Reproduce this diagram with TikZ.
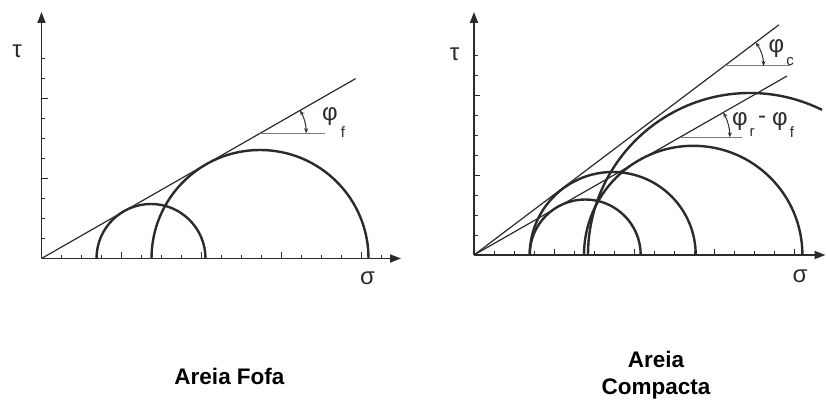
\documentclass[tikz,border=0pt]{standalone}
\usepackage{fontspec}
\setmainfont{Liberation Sans}
\usetikzlibrary{arrows.meta,calc}
\definecolor{ink}{HTML}{2B2B2B}
\definecolor{refgray}{HTML}{7A7A7A}
\tikzset{
  axis/.style={draw=ink,line width=1.8pt,-{Triangle[length=11pt,width=8pt]}},
  mohr/.style={draw=ink,line width=2.4pt},
  envelope/.style={draw=ink,line width=1.2pt},
  refline/.style={draw=refgray,line width=1pt},
  anglearrow/.style={draw=ink,line width=1pt,{Stealth[length=5pt,width=4pt]}-{Stealth[length=5pt,width=4pt]}},
  tick/.style={draw=ink,line width=0.8pt},
  greek/.style={inner sep=0pt,font=\fontsize{24}{26}\selectfont,text=ink},
  sub/.style={inner sep=0pt,font=\fontsize{15}{16}\selectfont,text=ink},
  caption/.style={inner sep=0pt,align=center,font=\fontsize{22.5}{27}\selectfont\bfseries}
}
\begin{document}
\begin{tikzpicture}[x=1pt,y=1pt]
\useasboundingbox (0,0) rectangle (826,406);
% ---------------- left panel ----------------
\coordinate (O1) at (41.5,147.5);
\coordinate (Y1) at (41.5,394);
\coordinate (X1) at (401,147.5);
\foreach \k in {1,...,10}{
  \pgfmathsetmacro{\len}{ifthenelse(mod(\k,4)==0,6,3.5)}
  \draw[tick] ($(O1)+(0,20*\k)$) -- ++(\len,0);
}
\foreach \k in {1,...,17}{
  \pgfmathsetmacro{\len}{ifthenelse(mod(\k,4)==0,6,3.5)}
  \draw[tick] ($(O1)+(20*\k,0)$) -- ++(0,\len);
}
\draw[axis] (O1) -- (Y1);
\draw[axis] (O1) -- (X1);
\coordinate (A1) at (96.5,147.5);
\coordinate (A2) at (151.5,147.5);
\draw[mohr] (A1) arc[start angle=180,end angle=0,radius=54.5];
\draw[mohr] (A2) arc[start angle=180,end angle=0,radius=108.5];
\coordinate (E1) at ($(O1)+(29.8:362)$);
\draw[envelope] (O1) -- (E1);
\coordinate (P1) at ($(O1)+(29.8:252)$);
\coordinate (H1) at ($(P1)+(65,0)$);
\draw[refline] (P1) -- (H1);
\draw[anglearrow] ($(P1)+(46,0)$) arc[start angle=0,end angle=29.8,radius=46];
\node[greek] (phif) at (330,289) {φ};
\node[sub] (phifs) at (343,274) {f};
\node[greek] (tau1) at (17,355) {τ};
\node[greek] (sig1) at (367.5,128) {σ};
% ---------------- right panel ----------------
\coordinate (O2) at (474,151);
\coordinate (Y2) at (474,394);
\coordinate (X2) at (825.5,151);
\foreach \k in {1,...,10}{
  \pgfmathsetmacro{\len}{ifthenelse(mod(\k,4)==0,6,3.5)}
  \draw[tick] ($(O2)+(0,20*\k)$) -- ++(\len,0);
}
\foreach \k in {1,...,16}{
  \pgfmathsetmacro{\len}{ifthenelse(mod(\k,4)==0,6,3.5)}
  \draw[tick] ($(O2)+(20*\k,0)$) -- ++(0,\len);
}
\draw[axis] (O2) -- (Y2);
\draw[axis] (O2) -- (X2);
\coordinate (B1) at (529.7,151);
\coordinate (B3) at (584,151);
\coordinate (B4) at (588,151);
\draw[mohr] (B1) arc[start angle=180,end angle=0,radius=55.5];
\draw[mohr] (B1) arc[start angle=180,end angle=0,radius=83];
\draw[mohr] (B3) arc[start angle=180,end angle=0,radius=109.2];
\draw[mohr] (B4) arc[start angle=180,end angle=63.6,radius=162];
\coordinate (E2) at ($(O2)+(37.05:382)$);
\coordinate (E3) at ($(O2)+(29.76:360.6)$);
\draw[envelope] (O2) -- (E2);
\draw[envelope] (O2) -- (E3);
\coordinate (Pc) at (724.5,340);
\coordinate (Hc) at (789.7,340);
\draw[refline] (Pc) -- (Hc);
\draw[anglearrow] ($(Pc)+(39,0)$) arc[start angle=0,end angle=37.05,radius=39];
\coordinate (Pr) at (679.8,268.7);
\coordinate (Hr) at (741.5,268.7);
\draw[refline] (Pr) -- (Hr);
\draw[anglearrow] ($(Pr)+(50,0)$) arc[start angle=0,end angle=29.76,radius=50];
\node[greek] (phic) at (776.5,357) {φ};
\node[sub] (phics) at (790,344) {c};
\node[greek] (phir) at (740,284) {φ};
\node[sub] (phirs) at (752,274) {r};
\node[greek] (minus) at (762,286) {-};
\node[greek] (phif2) at (780,284) {φ};
\node[sub] (phif2s) at (792,274) {f};
\node[greek] (tau2) at (454.5,352) {τ};
\node[greek] (sig2) at (800,130) {σ};
% ---------------- captions ----------------
\node[caption] (cap1) at (229.5,30) {Areia Fofa};
\node[caption] (cap2) at (656,30.5) {Areia\\Compacta};
\end{tikzpicture}
\end{document}
